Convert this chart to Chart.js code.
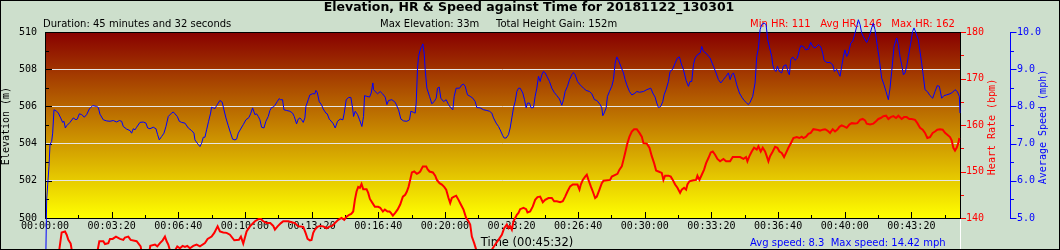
<!DOCTYPE html>
<html>
<head>
<meta charset="utf-8">
<script src="https://cdn.jsdelivr.net/npm/chart.js@4.4.0/dist/chart.umd.min.js"></script>
<style>
  body { margin: 0; background: #cddfcc; }
  canvas { display: block; }
</style>
</head>
<body>
<canvas id="chart" width="1060" height="250"></canvas>
<script>
// values: [seconds, value]
const heartRate = [
  [0,118],[33,128],[50,136.9],[60,137.1],[65,136.4],[70,135.3],[77,134.5],[90,129],[135,126],[150,130],
  [163,135],[175,135],[180,134.4],[190,134.6],[195,135.5],[203,135.5],[213,136],[225,135.5],[235,135.3],[240,135.8],
  [250,136],[257,135.3],[275,135],[287,133.9],[294,131],[309,131],[316,134],[330,134.3],[337,133.9],[345,134.6],
  [353,135.2],[360,136],[365,135],[370,134.3],[381,131.5],[390,133],[397,133.9],[405,133.5],[413,134],[420,133.8],
  [427,134],[435,133.5],[445,134],[455,134.3],[465,133.9],[480,134.6],[488,135.5],[500,136],[508,136.8],[518,138.2],
  [525,137.1],[535,136.9],[545,136.8],[555,136.4],[568,135.2],[582,135.3],[588,136],[595,134.5],[605,137.1],[615,138.2],
  [630,139.3],[642,139.8],[648,139.8],[655,139.3],[665,138.9],[676,138.9],[685,138.3],[690,137.5],[698,138.2],[708,138.9],
  [715,139.3],[730,139.3],[750,138.9],[760,138.2],[775,138.1],[782,136.8],[788,135.5],[795,135.2],[800,135.3],[805,136.8],
  [810,137.5],[818,138.1],[825,138.3],[835,138.2],[845,137.8],[855,138.2],[862,138.3],[870,138.9],[880,139.6],[890,140],
  [898,139.6],[905,140.3],[913,140.7],[919,140.9],[925,141.4],[930,143.9],[935,145.7],[940,146.7],[945,146.5],[950,147.3],
  [955,146.2],[965,146.2],[970,145.4],[975,144.1],[983,143.2],[990,142.4],[1000,142.4],[1006,142.2],[1014,141.4],[1020,141.8],
  [1028,141.4],[1034,141.4],[1038,141.1],[1044,140.5],[1051,141.1],[1058,141.8],[1066,142.9],[1074,144.6],[1081,145],[1086,145.7],
  [1091,146.7],[1096,148.2],[1101,149.8],[1108,150],[1116,149.5],[1121,149.7],[1126,150],[1134,151.1],[1144,151.1],[1148,150.5],
  [1154,150],[1164,149.8],[1171,149.1],[1176,148.2],[1184,147.5],[1191,147.2],[1198,146.7],[1204,146.1],[1211,144.3],[1216,143.2],
  [1221,144.3],[1228,144.6],[1234,144.8],[1241,143.9],[1248,142.9],[1256,141.8],[1264,140],[1271,139.3],[1276,138.6],[1281,136],
  [1288,134.6],[1294,133.2],[1315,129],[1341,133.2],[1351,134.3],[1361,135.3],[1371,136.4],[1378,137.8],[1386,138.6],[1391,137.8],
  [1396,138.2],[1401,137.5],[1406,139.3],[1411,140],[1416,140.7],[1421,141.1],[1426,141.9],[1436,142.2],[1444,141.9],[1448,141.2],
  [1456,141.4],[1464,142.5],[1471,143.9],[1478,144.5],[1486,144.6],[1494,143.4],[1501,143.9],[1511,144.3],[1521,144.3],[1528,143.6],
  [1536,143.6],[1546,143.4],[1554,143.6],[1561,144.6],[1568,145.7],[1576,146.8],[1584,147.2],[1598,147.2],[1604,146.1],[1608,147.2],
  [1614,148.2],[1621,148.9],[1626,149.3],[1631,148.2],[1638,146.8],[1644,145.7],[1651,144.3],[1656,144.6],[1664,146.1],[1671,147.5],
  [1676,148],[1696,148.2],[1701,148.9],[1718,149.5],[1724,150.4],[1731,151.1],[1736,152.5],[1741,154],[1748,156.1],[1754,157.5],
  [1761,158.6],[1768,159.1],[1776,159.1],[1784,158.3],[1791,157.5],[1796,156.1],[1806,156],[1814,155.1],[1821,153.3],[1828,151.8],
  [1834,150.2],[1841,150],[1851,149.7],[1856,148.2],[1861,149.1],[1871,149.1],[1878,148.9],[1884,148.2],[1891,147.2],[1898,146.5],
  [1906,145.4],[1911,146.1],[1918,146.5],[1924,146.1],[1928,147.2],[1934,147.9],[1946,148.1],[1954,148.2],[1958,149.1],[1964,148.2],
  [1971,149.3],[1978,150.4],[1984,151.8],[1991,152.9],[1998,154.1],[2004,154.3],[2011,153.6],[2018,152.7],[2026,152.2],[2036,152.7],
  [2044,152.2],[2056,152.2],[2064,153.1],[2076,153.1],[2086,153.1],[2096,152.7],[2104,153.1],[2108,152.2],[2114,153.3],[2121,154.3],
  [2128,155.1],[2136,154.7],[2141,155.4],[2148,154.3],[2154,155.1],[2161,154.3],[2166,153.3],[2171,152.2],[2176,153.3],[2184,154.3],
  [2191,155.3],[2198,155.1],[2204,154.3],[2211,154],[2218,153.1],[2224,154],[2231,155.1],[2238,156],[2246,157.2],[2256,157.4],
  [2264,157.2],[2271,157.5],[2276,157.2],[2284,157.5],[2291,158.1],[2298,158.3],[2306,159.1],[2316,159],[2326,158.8],[2334,159],
  [2341,159.1],[2348,158.8],[2356,158.3],[2364,159.1],[2371,158.6],[2378,159],[2384,159.6],[2391,159.9],[2398,159.7],[2406,159.4],
  [2414,160.1],[2421,160.4],[2431,160.3],[2438,160.4],[2446,161.1],[2454,161.3],[2461,161],[2466,160.3],[2476,160.1],[2486,160.3],
  [2494,160.8],[2501,161.3],[2508,161.5],[2516,161.9],[2524,162],[2531,161.3],[2538,161.7],[2546,161.9],[2554,161.5],[2561,162],
  [2571,161.3],[2578,161.7],[2586,161.7],[2594,161.3],[2601,161.3],[2611,161.1],[2618,160.4],[2626,159.4],[2634,159],[2641,158.3],
  [2648,157.2],[2656,157.4],[2664,158.3],[2671,158.6],[2678,159],[2686,159.1],[2694,159],[2701,158.3],[2708,157.9],[2716,157.4],
  [2721,156.7],[2726,155.1],[2731,154.5],[2736,155.1],[2741,156.1],[2744,157.2]
];

const avgSpeed = [
  [0,2.5],[5,5.49],[8,5.89],[12,6.39],[15,6.97],[20,7.06],[23,7.28],[27,7.91],[35,7.87],[40,7.82],
  [47,7.69],[53,7.57],[57,7.6],[61,7.42],[65,7.48],[75,7.57],[85,7.69],[93,7.64],[97,7.66],[103,7.8],
  [110,7.78],[118,7.71],[125,7.78],[133,7.93],[143,8.02],[155,8],[160,7.97],[165,7.79],[175,7.64],[185,7.61],
  [195,7.6],[205,7.62],[215,7.58],[223,7.62],[230,7.6],[235,7.46],[245,7.39],[255,7.35],[260,7.28],[265,7.4],
  [270,7.37],[275,7.44],[285,7.57],[295,7.58],[303,7.55],[308,7.42],[315,7.4],[325,7.44],[333,7.4],[338,7.24],
  [343,7.1],[350,7.19],[357,7.28],[363,7.46],[370,7.73],[380,7.82],[385,7.85],[390,7.8],[397,7.73],[403,7.6],
  [410,7.57],[420,7.55],[430,7.42],[440,7.35],[447,7.28],[450,7.1],[457,7.01],[465,6.92],[470,7.01],[475,7.17],
  [480,7.17],[485,7.37],[491,7.6],[497,7.82],[500,7.98],[505,7.96],[510,7.94],[515,8.02],[520,8.09],[525,8.16],
  [532,8.11],[537,7.91],[543,7.69],[550,7.48],[557,7.28],[563,7.12],[570,7.1],[575,7.12],[580,7.28],[587,7.39],
  [595,7.51],[603,7.64],[612,7.7],[617,7.8],[623,7.96],[630,7.78],[635,7.8],[640,7.73],[645,7.64],[650,7.44],
  [657,7.42],[663,7.6],[670,7.73],[675,7.89],[680,7.97],[685,7.98],[690,8.03],[697,8.13],[703,8.21],[707,8.18],
  [713,8.18],[717,7.91],[725,7.89],[735,7.87],[743,7.82],[748,7.73],[755,7.53],[760,7.66],[765,7.69],[770,7.64],
  [775,7.57],[780,7.69],[783,8],[790,8.18],[795,8.31],[803,8.34],[810,8.34],[813,8.43],[817,8.38],[823,8.13],
  [830,8.04],[835,7.93],[843,7.82],[847,7.8],[853,7.66],[864,7.55],[871,7.42],[878,7.6],[886,7.66],[894,7.64],
  [898,7.82],[904,8.18],[911,8.24],[918,8.24],[923,7.96],[926,7.73],[931,7.87],[938,7.78],[944,7.64],[951,7.46],
  [956,7.73],[959,8.29],[966,8.27],[974,8.25],[979,8.36],[984,8.63],[986,8.45],[991,8.4],[998,8.34],[1006,8.4],
  [1013,8.34],[1021,8.25],[1026,8.05],[1031,8.16],[1041,8.18],[1051,8.11],[1061,7.91],[1068,7.66],[1076,7.61],[1086,7.6],
  [1094,7.64],[1098,7.87],[1106,7.84],[1111,7.82],[1114,8.09],[1118,9.03],[1121,9.34],[1126,9.52],[1131,9.61],[1134,9.68],
  [1138,9.43],[1141,8.99],[1146,8.49],[1154,8.27],[1161,8.07],[1168,8.13],[1174,8.22],[1178,8.49],[1183,8.52],[1188,8.22],
  [1196,8.13],[1204,8.18],[1211,8.05],[1218,7.96],[1224,7.91],[1228,8.27],[1234,8.49],[1244,8.49],[1251,8.58],[1256,8.6],
  [1261,8.54],[1268,8.31],[1276,8.27],[1284,8.22],[1291,8.13],[1296,7.97],[1306,7.96],[1316,7.91],[1326,7.89],[1334,7.87],
  [1341,7.82],[1346,7.69],[1354,7.55],[1361,7.46],[1366,7.37],[1374,7.21],[1378,7.15],[1384,7.15],[1391,7.24],[1396,7.42],
  [1401,7.69],[1406,7.96],[1411,8.13],[1416,8.4],[1421,8.49],[1426,8.49],[1434,8.36],[1439,8.18],[1444,7.96],[1448,8.09],
  [1454,8.09],[1459,7.96],[1466,7.97],[1471,8.27],[1476,8.49],[1481,8.81],[1486,8.67],[1491,8.85],[1496,8.94],[1501,8.9],
  [1506,8.81],[1514,8.67],[1521,8.49],[1528,8.38],[1536,8.29],[1544,8.2],[1551,8.03],[1556,8.18],[1561,8.4],[1568,8.54],
  [1574,8.72],[1581,8.85],[1586,8.91],[1591,8.85],[1598,8.67],[1606,8.58],[1616,8.49],[1624,8.43],[1634,8.4],[1641,8.34],
  [1649,8.18],[1656,8.16],[1666,8.05],[1671,7.96],[1674,7.75],[1678,7.82],[1684,7.96],[1688,8.27],[1694,8.4],[1701,8.54],
  [1706,8.72],[1711,9.16],[1716,9.33],[1721,9.24],[1728,9.08],[1736,8.9],[1741,8.72],[1746,8.58],[1754,8.4],[1761,8.31],
  [1768,8.34],[1776,8.4],[1784,8.38],[1796,8.4],[1806,8.45],[1818,8.49],[1824,8.36],[1831,8.25],[1836,8.09],[1841,7.97],
  [1848,8],[1854,8.13],[1858,8.31],[1864,8.45],[1871,8.67],[1876,8.94],[1883,8.99],[1891,9.16],[1898,9.3],[1904,9.33],
  [1909,9.16],[1916,8.99],[1924,8.7],[1931,8.54],[1936,8.67],[1941,8.67],[1946,9.12],[1951,9.3],[1958,9.39],[1966,9.43],
  [1971,9.61],[1976,9.48],[1984,9.43],[1996,9.3],[2006,9.08],[2014,8.9],[2021,8.72],[2028,8.63],[2036,8.72],[2044,8.81],
  [2051,8.9],[2056,8.72],[2061,8.85],[2066,8.9],[2071,8.76],[2076,8.58],[2084,8.36],[2091,8.25],[2098,8.16],[2106,8.09],
  [2111,8.05],[2116,8.11],[2124,8.27],[2131,8.63],[2136,9.34],[2141,9.57],[2146,10.06],[2151,10.2],[2158,10.24],[2164,10.2],
  [2169,9.79],[2176,9.52],[2181,9.34],[2184,9.12],[2188,8.99],[2194,8.94],[2198,9.08],[2204,8.94],[2211,8.9],[2216,9.08],
  [2224,9.12],[2231,8.9],[2234,8.85],[2238,9.25],[2244,9.33],[2251,9.24],[2258,9.3],[2264,9.52],[2268,9.63],[2276,9.61],
  [2283,9.52],[2291,9.54],[2298,9.72],[2304,9.61],[2311,9.57],[2321,9.66],[2328,9.61],[2334,9.43],[2338,9.24],[2346,9.18],
  [2356,9.18],[2364,9.12],[2369,8.94],[2376,9],[2381,8.9],[2386,8.81],[2391,9.08],[2396,9.34],[2401,9.52],[2406,9.34],
  [2411,9.43],[2418,9.7],[2424,9.75],[2431,9.97],[2436,10.15],[2441,10.33],[2446,10.2],[2451,9.97],[2458,9.84],[2466,9.72],
  [2474,9.88],[2481,10.11],[2486,10.24],[2491,10.06],[2498,9.61],[2504,9.25],[2511,8.76],[2518,8.58],[2524,8.4],[2531,8.18],
  [2536,8.49],[2541,8.94],[2548,9.61],[2556,9.84],[2561,9.66],[2566,9.34],[2571,9.12],[2576,8.85],[2581,8.9],[2586,9.08],
  [2591,9.34],[2598,9.7],[2604,10.02],[2608,10.11],[2614,9.97],[2621,9.79],[2626,9.48],[2631,9.16],[2636,8.81],[2641,8.45],
  [2648,8.4],[2656,8.29],[2664,8.22],[2671,8.4],[2678,8.56],[2684,8.54],[2691,8.22],[2698,8.29],[2706,8.31],[2716,8.34],
  [2724,8.38],[2731,8.45],[2738,8.4],[2744,8.27],[2746,7.82]
];

const timeMax = 2746;
const elevTicks = [500, 510];
const hrRange = [140, 180];
const speedRange = [5, 10];

const mono = '"DejaVu Sans Mono", monospace';
const sans = '"DejaVu Sans", sans-serif';

function hms(s) {
  return [Math.floor(s / 3600), Math.floor(s / 60) % 60, s % 60]
    .map(n => String(n).padStart(2, '0')).join(':');
}

// ticks pointing inwards / outwards, drawn from the library scales
function yMarks(ctx, scale, x0, dir, major, minor, color) {
  ctx.strokeStyle = color;
  scale.ticks.forEach(t => {
    const y = Math.round(scale.getPixelForValue(t.value)) + 0.5;
    const len = t.label !== '' ? major : minor;
    ctx.beginPath();
    ctx.moveTo(x0, y);
    ctx.lineTo(x0 + dir * len, y);
    ctx.stroke();
  });
}

function vText(ctx, text, x, y, color, font) {
  ctx.save();
  ctx.translate(x, y);
  ctx.rotate(-Math.PI / 2);
  ctx.font = font;
  ctx.fillStyle = color;
  ctx.textAlign = 'center';
  ctx.textBaseline = 'middle';
  ctx.fillText(text, 0, 0);
  ctx.restore();
}

const decor = {
  id: 'decor',
  beforeDraw(chart) {
    const { ctx, chartArea: a } = chart;
    ctx.save();
    ctx.fillStyle = '#cddfcc';
    ctx.fillRect(0, 0, chart.width, chart.height);
    const g = ctx.createLinearGradient(0, a.top, 0, a.bottom);
    g.addColorStop(0, '#880000');
    g.addColorStop(1, '#ffff00');
    ctx.fillStyle = g;
    ctx.fillRect(a.left, a.top, a.right - a.left, a.bottom - a.top);
    ctx.restore();
  },
  beforeDatasetsDraw(chart) {
    const { ctx, chartArea: a, scales } = chart;
    ctx.save();
    ctx.lineWidth = 1;

    // plot frame
    ctx.strokeStyle = '#000';
    ctx.strokeRect(a.left + 0.5, a.top + 0.5, a.right - a.left, a.bottom - a.top);
    ctx.strokeStyle = '#fff';
    ctx.beginPath();
    ctx.moveTo(a.right + 0.5, a.bottom + 1);
    ctx.lineTo(a.right + 0.5, chart.height - 1);
    ctx.stroke();

    // x ticks, inside the plot
    ctx.strokeStyle = '#000';
    scales.x.ticks.forEach(t => {
      const x = Math.round(scales.x.getPixelForValue(t.value)) + 0.5;
      const len = t.label !== '' ? 6 : 3;
      ctx.beginPath();
      ctx.moveTo(x, a.bottom);
      ctx.lineTo(x, a.bottom - len);
      ctx.stroke();
    });

    yMarks(ctx, scales.elev, a.left + 1, 1, 6, 3, '#000');
    yMarks(ctx, scales.hr, a.right + 1, 1, 5, 3, '#ff0000');

    // speed axis line
    const sx = scales.spd.left + 0.5;
    ctx.strokeStyle = '#0000ff';
    ctx.beginPath();
    ctx.moveTo(sx, a.top);
    ctx.lineTo(sx, a.bottom + 1);
    ctx.stroke();
    yMarks(ctx, scales.spd, sx, 1, 6, 3.5, '#0000ff');

    // texts
    ctx.textBaseline = 'alphabetic';
    ctx.fillStyle = '#000';
    ctx.font = 'bold 12.5px ' + sans;
    ctx.textAlign = 'center';
    ctx.fillText('Elevation, HR & Speed against Time for 20181122_130301', 529, 10.5);

    ctx.font = '10px ' + sans;
    ctx.textAlign = 'left';
    ctx.fillText('Duration: 45 minutes and 32 seconds', 43, 27);
    ctx.fillText('Max Elevation: 33m', 380, 27);
    ctx.fillText('Total Height Gain: 152m', 496, 27);
    ctx.fillStyle = '#ff0000';
    ctx.fillText('Min HR: 111   Avg HR: 146   Max HR: 162', 750, 27);

    ctx.fillStyle = '#0000ff';
    ctx.fillText('Avg speed: 8.3  Max speed: 14.42 mph', 750, 245.5);
    ctx.fillStyle = '#000';
    ctx.textAlign = 'center';
    ctx.font = '11.5px ' + sans;
    ctx.fillText('Time (00:45:32)', 527, 246);

    vText(ctx, 'Elevation (m)', 6, 126, '#000', '10px ' + mono);
    vText(ctx, 'Heart Rate (bpm)', 992, 127, '#ff0000', '10px ' + mono);
    vText(ctx, 'Average Speed (mph)', 1043, 127, '#0000ff', '10px ' + mono);
    ctx.restore();
  },
  afterDraw(chart) {
    const ctx = chart.ctx;
    ctx.save();
    ctx.strokeStyle = '#000';
    ctx.lineWidth = 1;
    ctx.strokeRect(0.5, 0.5, chart.width - 1, chart.height - 1);
    ctx.restore();
  }
};

const pts = arr => arr.map(([x, y]) => ({ x, y }));

new Chart(document.getElementById('chart'), {
  type: 'line',
  data: {
    datasets: [
      {
        label: 'Heart Rate',
        data: pts(heartRate),
        yAxisID: 'hr',
        borderColor: '#ff0000',
        borderWidth: 2,
        pointRadius: 0,
        tension: 0,
        clip: false
      },
      {
        label: 'Average Speed',
        data: pts(avgSpeed),
        yAxisID: 'spd',
        borderColor: '#0000ff',
        borderWidth: 1,
        pointRadius: 0,
        tension: 0,
        clip: false
      }
    ]
  },
  options: {
    responsive: false,
    animation: false,
    devicePixelRatio: 1,
    layout: { padding: { top: 32, left: 0, right: 0, bottom: 0 } },
    plugins: { legend: { display: false }, tooltip: { enabled: false } },
    scales: {
      x: {
        type: 'linear',
        position: 'bottom',
        min: 0,
        max: timeMax,
        afterFit: s => { s.height = 32; },
        grid: { display: false, drawTicks: false },
        border: { display: false },
        ticks: {
          stepSize: 100,
          autoSkip: false,
          maxRotation: 0,
          includeBounds: false,
          padding: 2,
          color: '#000',
          font: { family: mono, size: 10 },
          callback: v => (v % 200 === 0 ? hms(v) : '')
        }
      },
      elev: {
        type: 'linear',
        position: 'left',
        min: elevTicks[0],
        max: elevTicks[1],
        afterFit: s => { s.width = 45; },
        border: { display: false },
        grid: {
          drawTicks: false,
          color: c => (c.tick && c.tick.value % 2 === 0 && c.tick.value > elevTicks[0] && c.tick.value < elevTicks[1]) ? '#e6e6e6' : 'rgba(0,0,0,0)'
        },
        ticks: {
          stepSize: 1,
          padding: 8,
          color: '#000',
          font: { family: mono, size: 10 },
          callback: v => (v % 2 === 0 ? String(v) : '')
        }
      },
      hr: {
        type: 'linear',
        position: 'right',
        weight: 1,
        min: hrRange[0],
        max: hrRange[1],
        afterFit: s => { s.width = 50; },
        border: { display: false },
        grid: { display: false, drawTicks: false },
        ticks: {
          stepSize: 5,
          padding: 6,
          color: '#ff0000',
          font: { family: mono, size: 10 },
          callback: v => (v % 10 === 0 ? String(v) : '')
        }
      },
      spd: {
        type: 'linear',
        position: 'right',
        weight: 2,
        min: speedRange[0],
        max: speedRange[1],
        afterFit: s => { s.width = 50; },
        border: { display: false },
        grid: { display: false, drawTicks: false },
        ticks: {
          stepSize: 0.5,
          padding: 7,
          color: '#0000ff',
          font: { family: mono, size: 10 },
          callback: v => (Math.abs(v % 1) < 1e-6 ? v.toFixed(1) : '')
        }
      }
    }
  },
  plugins: [decor]
});
</script>
</body>
</html>
